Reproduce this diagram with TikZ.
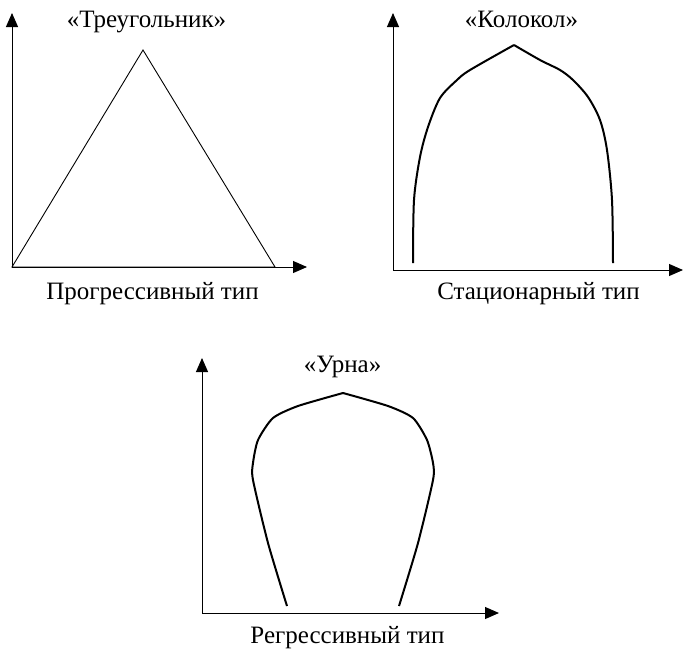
\documentclass[tikz,border=0pt]{standalone}
\usepackage{fontspec}
\setmainfont{Liberation Serif}
\usetikzlibrary{arrows.meta}

\begin{document}
\begin{tikzpicture}[
  x=1pt, y=-1pt,
  every node/.style={font=\fontsize{25}{29}\selectfont, inner sep=0pt, anchor=base},
  % Styles
  axis/.style={-{Triangle[length=14pt, width=12pt]}, line width=1pt},
  outline/.style={line width=0.9pt},
  curve/.style={line width=2pt, line join=round},
]
  \useasboundingbox (0,0) rectangle (683,649);

  % ── PROGRESSIVE: TRIANGLE ──────────────────────────────────
  \coordinate (o1) at (12,267);
  \draw[axis] (o1) -- (12,13);
  \draw[axis] (o1) -- (307,267);
  \draw[outline] (o1) -- (143,50) -- (275,267) -- cycle;
  \node (t1) at (146.5,27) {«Треугольник»};
  \node (c1) at (152.5,299) {Прогрессивный тип};

  % ── STATIONARY: BELL ───────────────────────────────────────
  \coordinate (o2) at (393,270);
  \draw[axis] (o2) -- (393,13);
  \draw[axis] (o2) -- (683,270);
  \draw[curve] plot[smooth, tension=0.5] coordinates {
    (413,263) (414,200) (420,157) (428,127) (440,98) (457,80) (470,70) (514,45)};
  \draw[curve] plot[smooth, tension=0.5] coordinates {
    (514,45) (540,60) (560,70) (573,80) (588,97) (600,120) (607,150) (612,200) (613,263)};
  \node (t2) at (521.5,27) {«Колокол»};
  \node (c2) at (538.5,299) {Стационарный тип};

  % ── REGRESSIVE: URN ────────────────────────────────────────
  \coordinate (o3) at (202,613);
  \draw[axis] (o3) -- (202,358);
  \draw[axis] (o3) -- (499,613);
  \draw[curve] plot[smooth, tension=0.4] coordinates {
    (287,606) (268,543) (253,480) (253,463) (258,440) (273,418) (298,406) (343,393)};
  \draw[curve] plot[smooth, tension=0.4] coordinates {
    (343,393) (388,406) (413,418) (427,440) (433,463) (433,480) (418,543) (399,606)};
  \node (t3) at (342.5,372) {«Урна»};
  \node (c3) at (347.5,643) {Регрессивный тип};

\end{tikzpicture}
\end{document}
